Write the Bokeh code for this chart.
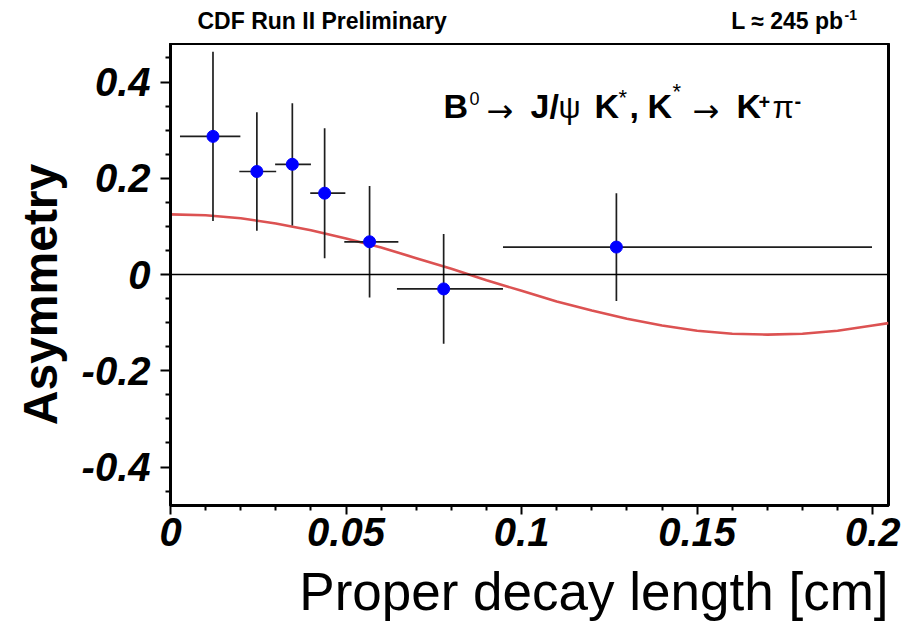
import math
from bokeh.plotting import figure
from bokeh.layouts import column
from bokeh.models import FixedTicker, Label, Range1d, ColumnDataSource, Span, Title
from bokeh.embed import file_html
from bokeh.resources import INLINE

# ---------------- data ----------------
decay_length = [0.0121, 0.0246, 0.0347, 0.0439, 0.0567, 0.0778, 0.1270]
asymmetry = [0.287, 0.214, 0.229, 0.169, 0.068, -0.030, 0.057]
bin_low = [0.0027, 0.0196, 0.0298, 0.0398, 0.0495, 0.0645, 0.0947]
bin_high = [0.0199, 0.0301, 0.0400, 0.0498, 0.0649, 0.0947, 0.1998]
asym_err = [0.176, 0.123, 0.127, 0.135, 0.116, 0.114, 0.112]

# fitted curve, values
fit_x = [0.00, 0.01, 0.02, 0.03, 0.04, 0.05, 0.06, 0.07, 0.08, 0.09, 0.10,
         0.11, 0.12, 0.13, 0.14, 0.15, 0.16, 0.17, 0.18, 0.19, 0.20, 0.2045]
fit_y = [0.125, 0.123, 0.117, 0.106, 0.092, 0.075, 0.056, 0.034, 0.012, -0.012, -0.034,
         -0.056, -0.075, -0.092, -0.106, -0.117, -0.123, -0.125, -0.123, -0.117, -0.106, -0.101]

x_ticks = [0.0, 0.05, 0.1, 0.15, 0.2]
x_tick_labels = ["0", "0.05", "0.1", "0.15", "0.2"]
x_minor = [0.01, 0.02, 0.03, 0.04, 0.06, 0.07, 0.08, 0.09, 0.11, 0.12, 0.13, 0.14,
           0.16, 0.17, 0.18, 0.19]
y_ticks = [-0.4, -0.2, 0.0, 0.2, 0.4]
y_tick_labels = ["-0.4", "-0.2", "0", "0.2", "0.4"]
y_minor = [-0.45, -0.35, -0.3, -0.25, -0.15, -0.1, -0.05, 0.05, 0.1, 0.15, 0.25, 0.3, 0.35, 0.45]

XMIN, XMAX = 0.0, 0.2045
YMIN, YMAX = -0.48, 0.48

# ---------------- layout ----------------
W = 910
HEADER_H = 43           # frame top sits at this page y
FRAME_L, FRAME_R = 170, 888
FRAME_B = 509
MAIN_H = 589

FONT = "Liberation Sans"

# ---- header strip (its frame is aligned with the main frame; data units == page pixels)
header = figure(width=W, height=HEADER_H, x_range=Range1d(FRAME_L, FRAME_R),
                y_range=Range1d(HEADER_H, 0),
                output_backend="svg", toolbar_location=None,
                x_axis_location=None, y_axis_location=None,
                min_border_left=FRAME_L, min_border_right=W - FRAME_R,
                min_border_top=0, min_border_bottom=0)
header.grid.visible = False
header.outline_line_color = None
header.background_fill_color = "white"
header.border_fill_color = "white"


def htext(text, px, pymid, size, style="bold", align="left"):
    header.add_layout(Label(x=px, y=pymid, text=text, text_font=FONT, text_font_size=f"{size}px",
                            text_font_style=style, text_align=align, text_baseline="middle",
                            text_color="black"))


htext("CDF Run II Preliminary", 197, 20, 23)
htext("L \u2248 245 pb", 843, 20, 23, align="right")
htext("-1", 844, 14, 14)

# ---- main plot
p = figure(width=W, height=MAIN_H, x_range=Range1d(XMIN, XMAX), y_range=Range1d(YMIN, YMAX),
           output_backend="svg", toolbar_location=None,
           min_border_left=FRAME_L, min_border_right=W - FRAME_R, min_border_top=0,
           min_border_bottom=MAIN_H - (FRAME_B - HEADER_H))
p.grid.visible = False
p.outline_line_color = "black"
p.outline_line_width = 3
p.background_fill_color = "white"
p.border_fill_color = "white"

for ax, ticks, minor, labels in ((p.xaxis, x_ticks, x_minor, x_tick_labels),
                                 (p.yaxis, y_ticks, y_minor, y_tick_labels)):
    ax.ticker = FixedTicker(ticks=ticks, minor_ticks=minor)
    ax.major_label_overrides = {t: l for t, l in zip(ticks, labels)}
    ax.major_label_text_font = FONT
    ax.major_label_text_font_style = "bold italic"
    ax.major_label_text_font_size = "40px"
    ax.major_label_text_color = "black"
    ax.axis_line_width = 3
    ax.axis_line_color = "black"
    ax.major_tick_in = 0
    ax.minor_tick_in = 0
    ax.major_tick_line_width = 2
    ax.minor_tick_line_width = 2
    ax.major_tick_line_color = "black"
    ax.minor_tick_line_color = "black"

p.xaxis.major_tick_out = 9
p.xaxis.minor_tick_out = 5
p.xaxis.major_label_standoff = 3
p.yaxis.major_tick_out = 10
p.yaxis.minor_tick_out = 5
p.yaxis.major_label_standoff = 10

# y axis title (trailing no-break spaces move the visible word slightly below the frame centre)
p.yaxis.axis_label = "Asymmetry\u00a0\u00a0\u00a0"
p.yaxis.axis_label_text_font = FONT
p.yaxis.axis_label_text_font_style = "bold"
p.yaxis.axis_label_text_font_size = "48px"
p.yaxis.axis_label_text_color = "black"
p.yaxis.axis_label_standoff = 12

# x axis title, right aligned under the axis
p.add_layout(Title(text="Proper decay length [cm]", align="right", text_font=FONT,
                   text_font_size="53px", text_font_style="normal", text_color="black",
                   standoff=23), "below")

# zero line
p.add_layout(Span(location=0, dimension="width", line_color="black", line_width=1.5))

# fit curve
p.line(fit_x, fit_y, line_color="#dc5252", line_width=2.6)

# data with error bars
src = ColumnDataSource(dict(
    x=decay_length, y=asymmetry, xlo=bin_low, xhi=bin_high,
    ylo=[a - e for a, e in zip(asymmetry, asym_err)],
    yhi=[a + e for a, e in zip(asymmetry, asym_err)],
))
p.segment(x0="xlo", x1="xhi", y0="y", y1="y", source=src, line_color="#1e1e1e", line_width=1.7)
p.segment(x0="x", x1="x", y0="ylo", y1="yhi", source=src, line_color="#1e1e1e", line_width=1.7)
p.scatter(x="x", y="y", source=src, size=12, fill_color="#0000ff", line_color="#0000ff", marker="circle")


def dx(px):
    return XMIN + (px - FRAME_L) / (FRAME_R - FRAME_L) * (XMAX - XMIN)


def dy(py):
    return YMAX - (py - HEADER_H) / (FRAME_B - HEADER_H) * (YMAX - YMIN)


def ptext(text, px, pymid, size, style="bold", font=FONT):
    p.add_layout(Label(x=dx(px), y=dy(pymid), text=text, text_font=font, text_font_size=f"{size}px",
                       text_font_style=style, text_align="left", text_baseline="middle",
                       text_color="black"))


# decay annotation pieces (text, page x, page y of the text middle, size, style, font)
pieces = [
    ("B", 443, 106, 34, "bold", FONT),
    ("0", 469, 98, 18, "normal", FONT),
    ("\u2192", 486, 111, 32, "normal", "DejaVu Sans"),
    ("J/", 530, 106, 34, "bold", FONT),
    ("\u03c8", 558, 108, 31, "normal", FONT),
    ("K", 594, 106, 34, "bold", FONT),
    ("*", 618, 97, 22, "normal", FONT),
    (",", 629, 107, 34, "bold", FONT),
    ("K", 647, 106, 34, "bold", FONT),
    ("*", 672, 91, 22, "normal", FONT),
    ("\u2192", 692, 111, 32, "normal", "DejaVu Sans"),
    ("K", 736, 106, 34, "bold", FONT),
    ("+", 758, 102, 20, "bold", FONT),
    ("\u03c0", 772, 108, 31, "normal", FONT),
    ("-", 794, 101, 20, "bold", FONT),
]
for t, px, py, s, st, f in pieces:
    ptext(t, px, py, s, style=st, font=f)

layout = column(header, p, spacing=0)
open("out.html", "w").write(file_html(layout, INLINE))
